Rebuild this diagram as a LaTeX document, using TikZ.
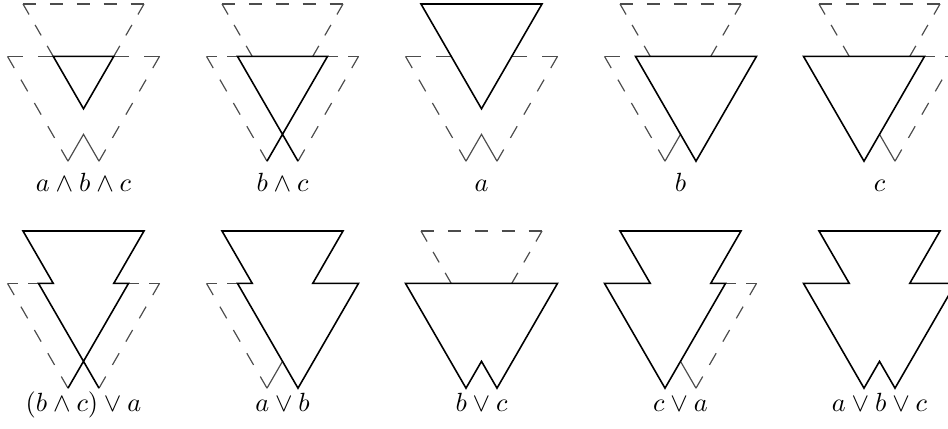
\documentclass[tikz,border=0pt]{standalone}
\newcommand\mypts{%
  \coordinate (A1) at (0,0);
  \coordinate (A2) at (121,0);
  \coordinate (A3) at (60.5,104.79);
  \coordinate (L1) at (-15.5,52.395);
  \coordinate (L2) at (105.5,52.395);
  \coordinate (L3) at (45,157.19);
  \coordinate (R1) at (15.5,52.395);
  \coordinate (R2) at (136.5,52.395);
  \coordinate (R3) at (76,157.19);
  \coordinate (PL) at (30.25,52.395);
  \coordinate (PR) at (90.75,52.395);
  \coordinate (X) at (60.5,130.34);}
\begin{document}
\begin{tikzpicture}[x=0.38pt,y=-0.38pt,
  sol/.style={line width=0.6pt,line join=miter},
  dsh/.style={line width=0.45pt,draw=black!70},
  dn/.style={dsh,dash pattern=on 5.109pt off 5.109pt},
  df/.style={dsh,dash pattern=on 4.598pt off 4.598pt},
  dt/.style={dsh,dash pattern=on 5.795pt off 5.795pt},
  ds/.style={dsh,dash pattern=on 3.927pt off 3.927pt},
  lbl/.style={anchor=base,inner sep=0pt}]
\useasboundingbox (0,0) rectangle (948,429);
% ---------- row 1 ----------
% panel 1: a and b and c
\begin{scope}[shift={(23,4)}]
  \mypts
  \draw[dn] (A1)--(A2); \draw[df] (A1)--(PL); \draw[df] (A2)--(PR);
  \draw[dt] (L1)--(PL); \draw[dt] (R2)--(PR);
  \draw[dn] (L1)--(L3); \draw[dn] (R2)--(R3);
  \draw[dsh] (L3)--(X)--(R3);
  \draw[sol] (PL)--(PR)--(A3)--cycle;
\end{scope}
% panel 2: b and c
\begin{scope}[shift={(222,4)}]
  \mypts
  \draw[dn] (A1)--(A2); \draw[df] (A1)--(PL); \draw[df] (A2)--(PR);
  \draw[ds] (L1)--(R1); \draw[ds] (R2)--(L2);
  \draw[dn] (L1)--(L3); \draw[dn] (R2)--(R3);
  \draw[sol] (R3)--(R1)--(L2)--(L3);
\end{scope}
% panel 3: a
\begin{scope}[shift={(421,4)}]
  \mypts
  \draw[dt] (L1)--(PL); \draw[dt] (R2)--(PR);
  \draw[dn] (L1)--(L3); \draw[dn] (R2)--(R3);
  \draw[dsh] (L3)--(X)--(R3);
  \draw[sol] (A1)--(A2)--(A3)--cycle;
\end{scope}
% panel 4: b
\begin{scope}[shift={(620,4)}]
  \mypts
  \draw[dn] (A1)--(A2); \draw[df] (A1)--(PL); \draw[df] (A2)--(PR);
  \draw[dt] (L1)--(PL);
  \draw[dn] (L1)--(L3);
  \draw[dsh] (L3)--(X);
  \draw[sol] (R1)--(R2)--(R3)--cycle;
\end{scope}
% panel 5: c
\begin{scope}[shift={(819,4)}]
  \mypts
  \draw[dn] (A1)--(A2); \draw[df] (A1)--(PL); \draw[df] (A2)--(PR);
  \draw[ds] (L2)--(R2);
  \draw[dn] (R2)--(R3);
  \draw[dsh] (X)--(R3);
  \draw[sol] (L1)--(L2)--(L3)--cycle;
\end{scope}
% ---------- row 2 ----------
% panel 6: (b and c) or a
\begin{scope}[shift={(23,231)}]
  \mypts
  \draw[ds] (L1)--(R1); \draw[ds] (R2)--(L2);
  \draw[dn] (L1)--(L3); \draw[dn] (R2)--(R3);
  \draw[sol] (R3)--(R1)--(PL)--(A1)--(A2)--(PR)--(L2)--(L3);
\end{scope}
% panel 7: a or b
\begin{scope}[shift={(222,231)}]
  \mypts
  \draw[ds] (L1)--(R1);
  \draw[dn] (L1)--(L3);
  \draw[dsh] (L3)--(X);
  \draw[sol] (A1)--(A2)--(PR)--(R2)--(R3)--(R1)--(PL)--cycle;
\end{scope}
% panel 8: b or c
\begin{scope}[shift={(421,231)}]
  \mypts
  \draw[dn] (A1)--(A2); \draw[df] (A1)--(PL); \draw[df] (A2)--(PR);
  \draw[sol] (L1)--(R2)--(R3)--(X)--(L3)--cycle;
\end{scope}
% panel 9: c or a
\begin{scope}[shift={(620,231)}]
  \mypts
  \draw[ds] (L2)--(R2);
  \draw[dn] (R2)--(R3);
  \draw[dsh] (X)--(R3);
  \draw[sol] (A1)--(A2)--(PR)--(L2)--(L3)--(L1)--(PL)--cycle;
\end{scope}
% panel 10: a or b or c
\begin{scope}[shift={(819,231)}]
  \mypts
  \draw[sol] (A1)--(A2)--(PR)--(R2)--(R3)--(X)--(L3)--(L1)--(PL)--cycle;
\end{scope}
% ---------- labels ----------
\node[lbl] (t1) at (83.5,191.5) {$a\wedge b\wedge c$};
\node[lbl] (t2) at (282.5,191.5) {$b\wedge c$};
\node[lbl] (t3) at (481.5,191.5) {$a$};
\node[lbl] (t4) at (680.5,191.5) {$b$};
\node[lbl] (t5) at (879.5,191.5) {$c$};
\node[lbl] (t6) at (83.5,411.5) {$(b\wedge c)\vee a$};
\node[lbl] (t7) at (282.5,411.5) {$a\vee b$};
\node[lbl] (t8) at (481.5,411.5) {$b\vee c$};
\node[lbl] (t9) at (680.5,411.5) {$c\vee a$};
\node[lbl] (t10) at (879.5,411.5) {$a\vee b\vee c$};
\end{tikzpicture}
\end{document}
